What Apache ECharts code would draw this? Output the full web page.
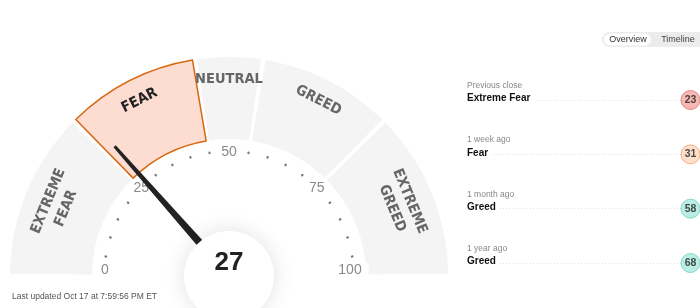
<!DOCTYPE html>
<html><head><meta charset="utf-8">
<script src="https://cdn.jsdelivr.net/npm/echarts@6/dist/echarts.min.js"></script>
<style>html,body{margin:0;padding:0;background:#fff}#c{width:700px;height:308px}</style>
</head><body><div id="c"></div>
<script>
// ---- data ----
const bandNames = ['EXTREME\nFEAR', 'FEAR', 'NEUTRAL', 'GREED', 'EXTREME\nGREED'];
const bandSizes = [25, 20, 10, 20, 25];
const currentScore = 27;
const tickLabelsShown = [0, 25, 50, 75, 100];
const periods = ['Previous close', '1 week ago', '1 month ago', '1 year ago'];
const periodRatings = ['Extreme Fear', 'Fear', 'Greed', 'Greed'];
const periodScores = [23, 31, 58, 68];
const updatedText = 'Last updated Oct 17 at 7:59:56 PM ET';

// ---- styles ----
const CX = 229, CY = 276;
const bandIndexOf = v => { let acc = 0; for (let i = 0; i < bandSizes.length; i++) { acc += bandSizes[i]; if (v < acc) return i; } return bandSizes.length - 1; };
const activeBand = bandIndexOf(currentScore);
const badgeFill = ['#f4a6a1', '#fdd8bf', '#eeeeee', '#a9e9dc', '#a9e9dc'];
const badgeBorder = ['#e0726c', '#f0a066', '#bbbbbb', '#6ed2bd', '#6ed2bd'];
const condFont = '"DejaVu Sans Condensed", "DejaVu Sans", sans-serif';
const sans = '"Liberation Sans", Arial, sans-serif';
const total = bandSizes.reduce((a, b) => a + b, 0);
const gMin = tickLabelsShown[0], gMax = tickLabelsShown[tickLabelsShown.length - 1];

const pieData = bandNames.map((n, i) => {
  const active = i === activeBand;
  return {
    name: n, value: bandSizes[i],
    itemStyle: active ? { color: '#fddcd1', borderColor: '#d6680f', borderWidth: 1.5 } : { color: '#f4f4f4' }
  };
});
pieData.push({ name: '', value: total, itemStyle: { color: 'rgba(0,0,0,0)' } });

// transparent label rings: one for single-line names, one for two-line names
function labelData(twoLine) {
  const d = bandNames.map((n, i) => {
    const show = (n.indexOf('\n') >= 0) === twoLine;
    return { name: n, value: bandSizes[i], itemStyle: { color: 'rgba(0,0,0,0)' },
      label: { show: show, color: i === activeBand ? '#222' : '#666' } };
  });
  d.push({ name: '', value: total, itemStyle: { color: 'rgba(0,0,0,0)' }, label: { show: false } });
  return d;
}
const labelPie = (radius, twoLine) => ({
  type: 'pie', center: [CX, CY], radius: radius, startAngle: 180, clockwise: true,
  silent: true, z: 2, avoidLabelOverlap: false,
  label: { position: 'inside', rotate: 'tangential', fontFamily: condFont, fontWeight: 'bold', fontSize: 14.5, lineHeight: 19 },
  labelLine: { show: false }, emphasis: { disabled: true },
  data: labelData(twoLine)
});

const gaugeBase = {
  type: 'gauge', center: [CX, CY], startAngle: 180, endAngle: 0, min: gMin, max: gMax,
  splitNumber: tickLabelsShown.length - 1,
  axisLine: { show: false, lineStyle: { width: 0 } },
  splitLine: { show: false, length: 0, distance: 0 },
  axisTick: { show: false },
  axisLabel: { show: false },
  pointer: { show: false },
  anchor: { show: false },
  title: { show: false },
  detail: { show: false },
  silent: true
};

const chart = echarts.init(document.getElementById('c'));
chart.setOption({
  animation: false,
  title: { text: updatedText, left: 12, top: 292, padding: 0, textStyle: { fontSize: 8.5, fontWeight: 'normal', color: '#555', fontFamily: sans } },
  grid: [
    { left: 467, right: 10, top: 100, bottom: 45 },
    { left: 681, right: 0, top: 100, bottom: 45 }
  ],
  xAxis: [
    { gridIndex: 0, type: 'value', show: false },
    { gridIndex: 1, type: 'category', data: ['score'], show: false }
  ],
  yAxis: [
    { gridIndex: 0, type: 'category', data: periods, inverse: true, boundaryGap: false,
      axisLine: { show: false }, axisTick: { show: false },
      splitLine: { show: true, interval: 0, lineStyle: { type: [1, 2], color: '#e2e2e2', width: 1 } },
      axisLabel: { inside: true, margin: 0, interval: 0, padding: [0, 0, 16, 0],
        formatter: (v, i) => '{s|' + v + '}\n{m|' + periodRatings[i] + '}',
        rich: {
          s: { fontSize: 8.5, color: '#888', fontFamily: sans, lineHeight: 13 },
          m: { fontSize: 10, fontWeight: 'bold', color: '#111', fontFamily: sans, lineHeight: 13, backgroundColor: '#fff', padding: [0, 4, 0, 0] }
        } } },
    { gridIndex: 1, type: 'category', data: periods, inverse: true, boundaryGap: false, show: false }
  ],
  series: [
    { type: 'pie', center: [CX, CY], radius: [137, 219], startAngle: 180, clockwise: true, padAngle: 1.2,
      silent: true, z: 1, label: { show: false }, labelLine: { show: false }, emphasis: { disabled: true },
      data: pieData },
    labelPie([184, 204], false),
    labelPie([173, 193], true),
    Object.assign({}, gaugeBase, { radius: 125, z: 3,
      axisTick: { show: true, splitNumber: 5, distance: 0, length: 0.6, lineStyle: { color: '#777', width: 2.2, cap: 'round' } },
      data: [{ value: currentScore }] }),
    Object.assign({}, gaugeBase, { radius: 124, z: 4,
      axisLabel: { show: true, distance: 0, rotate: 0.001, color: '#8a8a8a', fontSize: 14, fontFamily: sans, backgroundColor: '#fff', padding: [0, 1],
        formatter: v => v === gMin ? '{z|' + v + '}' : (v === gMax ? '{h|' + v + '}' : String(v)),
        rich: {
          z: { color: '#8a8a8a', fontSize: 14, fontFamily: sans, padding: [0, 0, 12, 0] },
          h: { color: '#8a8a8a', fontSize: 14, fontFamily: sans, padding: [0, 6, 12, 0] }
        } },
      data: [{ value: currentScore }] }),
    Object.assign({}, gaugeBase, { radius: 173, z: 5,
      pointer: { show: true, icon: 'path://M30,0 L61,0 L91,1000 L0,1000 Z', length: '100%', width: 9, offsetCenter: [0, 0], itemStyle: { color: '#222' } },
      anchor: { show: true, showAbove: true, size: 90, itemStyle: { color: '#fff', shadowBlur: 22, shadowColor: 'rgba(0,0,0,0.12)' } },
      data: [{ value: currentScore }] }),
    Object.assign({}, gaugeBase, { radius: 173, z: 6,
      detail: { show: true, offsetCenter: [0, -13], fontSize: 26, fontWeight: 'bold', color: '#222', fontFamily: sans, formatter: '{value}' },
      data: [{ value: currentScore }] }),
    { type: 'scatter', xAxisIndex: 1, yAxisIndex: 1, symbolSize: 19, silent: true, z: 5,
      data: periods.map((p, i) => {
        const b = bandIndexOf(periodScores[i]);
        return { value: ['score', p, periodScores[i]], itemStyle: { color: badgeFill[b], borderColor: badgeBorder[b], borderWidth: 1 } };
      }),
      label: { show: true, position: 'inside', formatter: p => p.value[2], fontSize: 10.5, fontWeight: 'bold', color: '#222', fontFamily: sans } }
  ],
  graphic: [
    { type: 'rect', shape: { x: 602, y: 32, width: 110, height: 15, r: 7.5 }, style: { fill: '#ececec' } },
    { type: 'rect', shape: { x: 604, y: 33.5, width: 47, height: 12, r: 6 }, style: { fill: '#fff' } },
    { type: 'text', x: 628, y: 39.5, style: { text: 'Overview', fontSize: 9, fill: '#333', fontFamily: sans, align: 'center', verticalAlign: 'middle' } },
    { type: 'text', x: 678, y: 39.5, style: { text: 'Timeline', fontSize: 9, fill: '#444', fontFamily: sans, align: 'center', verticalAlign: 'middle' } }
  ]
});
</script></body></html>
